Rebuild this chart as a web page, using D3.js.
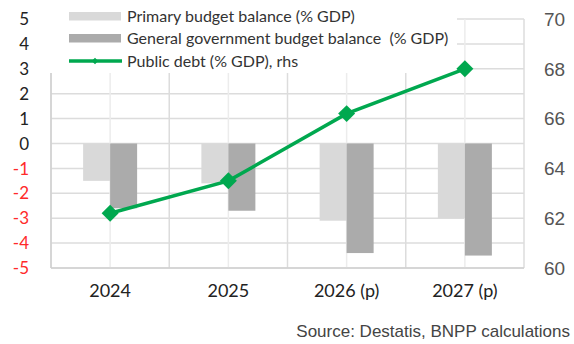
<!DOCTYPE html>
<html>
<head>
<meta charset="utf-8">
<script src="https://cdn.jsdelivr.net/npm/d3@7"></script>
<style>
  body { margin: 0; background: #fff; }
  svg { display: block; }
</style>
</head>
<body>
<svg id="chart"></svg>
<script>
// Data
const categories = ["2024", "2025", "2026 (p)", "2027 (p)"];
const primaryBalance = [-1.5, -1.6, -3.1, -3.0];
const generalBalance = [-2.6, -2.7, -4.4, -4.5];
const publicDebt = [62.2, 63.5, 66.2, 68.0];
const leftTicks = [-5, -4, -3, -2, -1, 0, 1, 2, 3, 4, 5];
const rightTicks = [60, 62, 64, 66, 68, 70];
const seriesNames = ["Primary budget balance (% GDP)", "General government budget balance  (% GDP)", "Public debt (% GDP), rhs"];

const width = 574, height = 344;
const plot = { left: 51, right: 524, top: 19, bottom: 268 };

const svg = d3.select("#chart").attr("width", width).attr("height", height);

const x = d3.scaleBand().domain(categories).range([plot.left, plot.right]).padding(0);
const xSeries = d3.scaleBand().domain(["primary", "general"]).range([-27, 27]).padding(0);
const yLeft = d3.scaleLinear().domain([-5, 5]).range([plot.bottom, plot.top]);
const yRight = d3.scaleLinear().domain([60, 70]).range([plot.bottom, plot.top]);

const colors = { primary: "#d9d9d9", general: "#ababab", debt: "#00a84f" };

// Gridlines
const grid = svg.append("g");
grid.selectAll(".hgrid")
  .data(leftTicks)
  .enter().append("line")
  .attr("x1", plot.left).attr("x2", plot.right)
  .attr("y1", d => yLeft(d)).attr("y2", d => yLeft(d))
  .attr("stroke", "#dcdcdc").attr("stroke-width", 1.5);

const bounds = categories.map(c => x(c)).concat([plot.right]);
grid.selectAll(".vgrid")
  .data(bounds)
  .enter().append("line")
  .attr("x1", d => d).attr("x2", d => d)
  .attr("y1", plot.top).attr("y2", plot.bottom)
  .attr("stroke", "#dcdcdc").attr("stroke-width", 1.5);

grid.selectAll(".cgrid")
  .data(categories)
  .enter().append("line")
  .attr("x1", d => x(d) + x.bandwidth() / 2).attr("x2", d => x(d) + x.bandwidth() / 2)
  .attr("y1", plot.top).attr("y2", plot.bottom)
  .attr("stroke", "#ececec").attr("stroke-width", 1.5);

// Bars
const barData = [];
categories.forEach((c, i) => {
  barData.push({ cat: c, key: "primary", value: primaryBalance[i] });
  barData.push({ cat: c, key: "general", value: generalBalance[i] });
});

svg.append("g").selectAll("rect")
  .data(barData)
  .enter().append("rect")
  .attr("x", d => x(d.cat) + x.bandwidth() / 2 + xSeries(d.key))
  .attr("width", xSeries.bandwidth())
  .attr("y", d => yLeft(Math.max(0, d.value)))
  .attr("height", d => Math.abs(yLeft(d.value) - yLeft(0)))
  .attr("fill", d => colors[d.key]);

// Axis lines (left and bottom)
svg.append("line")
  .attr("x1", plot.left).attr("x2", plot.left)
  .attr("y1", plot.top).attr("y2", plot.bottom)
  .attr("stroke", "#d0d0d0").attr("stroke-width", 1.5);
svg.append("line")
  .attr("x1", plot.left).attr("x2", plot.right)
  .attr("y1", plot.bottom).attr("y2", plot.bottom)
  .attr("stroke", "#d0d0d0").attr("stroke-width", 1.5);

// Left axis labels
svg.append("g").selectAll("text")
  .data(leftTicks)
  .enter().append("text")
  .attr("x", 29)
  .attr("y", d => yLeft(d))
  .attr("dy", "0.36em")
  .attr("text-anchor", "end")
  .style("font-family", "Lato, sans-serif")
  .style("font-size", "17px")
  .attr("fill", d => d < 0 ? "#ff2a2a" : "#222")
  .text(d => d);

// Right axis labels
svg.append("g").selectAll("text")
  .data(rightTicks)
  .enter().append("text")
  .attr("x", 544)
  .attr("y", d => yRight(d))
  .attr("dy", "0.36em")
  .attr("text-anchor", "start")
  .style("font-family", "'Liberation Sans', Arial, sans-serif")
  .style("font-size", "19px")
  .attr("fill", "#555")
  .text(d => d);

// Category labels
svg.append("g").selectAll("text")
  .data(categories)
  .enter().append("text")
  .attr("x", d => x(d) + x.bandwidth() / 2)
  .attr("y", 297)
  .attr("text-anchor", "middle")
  .style("font-family", "Lato, sans-serif")
  .style("font-size", "18px")
  .attr("fill", "#222")
  .text(d => d);

// Legend with white background covering the grid
svg.append("rect")
  .attr("x", 40).attr("y", 0)
  .attr("width", 417).attr("height", 73)
  .attr("fill", "#fff");

const legend = svg.append("g");
const legendRows = [16, 38, 61];
legend.append("rect").attr("x", 69).attr("y", legendRows[0] - 4).attr("width", 52).attr("height", 8.5).attr("fill", colors.primary);
legend.append("rect").attr("x", 69).attr("y", legendRows[1] - 4).attr("width", 52).attr("height", 8.5).attr("fill", colors.general);
legend.append("line")
  .attr("x1", 69).attr("x2", 122)
  .attr("y1", legendRows[2]).attr("y2", legendRows[2])
  .attr("stroke", colors.debt).attr("stroke-width", 3.5);
legend.append("path")
  .attr("d", d3.symbol(d3.symbolSquare, 20)())
  .attr("transform", `translate(95,${legendRows[2]}) rotate(45)`)
  .attr("fill", colors.debt);

legend.selectAll("text")
  .data(seriesNames)
  .enter().append("text")
  .attr("x", 127)
  .attr("y", (d, i) => legendRows[i])
  .attr("dy", "0.36em")
  .style("font-family", "Lato, sans-serif")
  .style("font-size", "16px")
  .style("white-space", "pre")
  .attr("fill", "#333")
  .text(d => d);

// Public debt line (right axis)
const debtData = categories.map((c, i) => ({ cat: c, value: publicDebt[i] }));
const line = d3.line()
  .x(d => x(d.cat) + x.bandwidth() / 2)
  .y(d => yRight(d.value));

svg.append("path")
  .datum(debtData)
  .attr("d", line)
  .attr("fill", "none")
  .attr("stroke", colors.debt)
  .attr("stroke-width", 3.5);

svg.append("g").selectAll("path")
  .data(debtData)
  .enter().append("path")
  .attr("d", d3.symbol(d3.symbolSquare, 144)())
  .attr("transform", d => `translate(${x(d.cat) + x.bandwidth() / 2},${yRight(d.value)}) rotate(45)`)
  .attr("fill", colors.debt);

// Source note
svg.append("text")
  .attr("x", 570)
  .attr("y", 337)
  .attr("text-anchor", "end")
  .style("font-family", "'Liberation Sans', Arial, sans-serif")
  .style("font-size", "17px")
  .attr("fill", "#444")
  .text("Source: Destatis, BNPP calculations");
</script>
</body>
</html>
